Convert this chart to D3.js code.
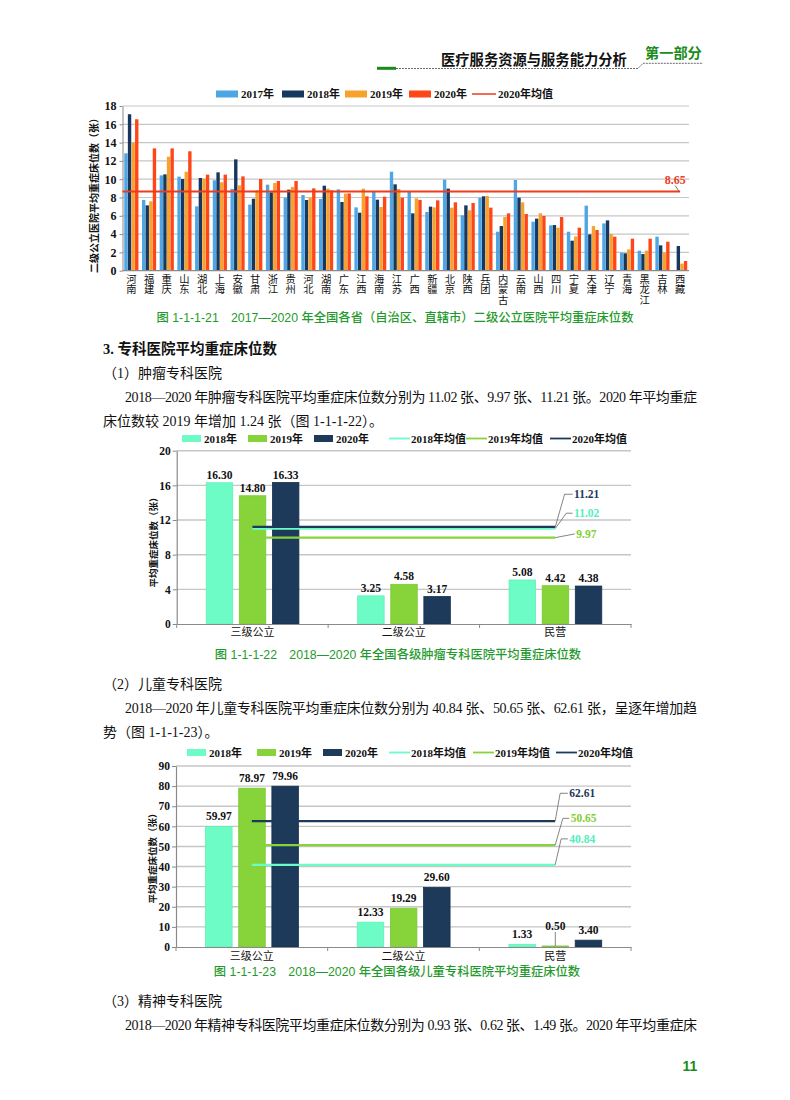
<!DOCTYPE html>
<html><head><meta charset="utf-8">
<script src="https://cdn.jsdelivr.net/npm/d3@7"></script>
<style>body{margin:0;background:#fff}svg{display:block}.vt{writing-mode:vertical-rl;text-orientation:upright}</style>
</head><body>
<svg id="page" width="790" height="1100"></svg>
<script>
// ---------------- DATA ----------------
const provinces = ["河南","福建","重庆","山东","湖北","上海","安徽","甘肃","浙江","贵州","河北","湖南","广东","江西","海南","江苏","广西","新疆","北京","陕西","兵团","内蒙古","云南","山西","四川","宁夏","天津","辽宁","青海","黑龙江","吉林","西藏"];
const years1 = ["2017年","2018年","2019年","2020年"];
const v2017 = [12.83,7.73,10.42,10.28,7.03,9.88,8.93,7.22,9.40,7.98,8.27,7.84,8.89,6.92,8.60,10.82,8.60,6.41,9.95,6.05,7.98,4.26,9.91,5.36,4.96,4.26,7.11,5.17,1.97,2.19,3.72,0];
const v2018 = [17.10,7.14,10.53,10.02,10.13,10.75,12.17,7.87,8.56,8.86,7.73,9.29,7.51,6.34,7.76,9.44,6.27,7.00,8.97,7.14,8.13,4.88,7.98,5.69,4.99,3.28,3.97,5.50,1.90,1.82,2.77,2.70];
const v2019 = [14.00,7.58,12.46,10.82,10.06,9.66,9.33,8.78,9.58,9.15,7.98,8.97,8.42,8.97,6.96,8.93,7.91,6.92,6.89,6.60,8.16,5.87,7.47,6.27,4.70,3.75,4.88,4.00,2.33,2.19,1.97,0.77];
const v2020 = [16.55,13.37,13.37,13.05,10.50,10.50,10.31,10.02,9.80,9.80,9.00,8.78,8.45,8.13,8.09,7.98,7.73,7.69,7.47,7.40,6.89,6.27,6.20,5.98,5.87,4.70,4.45,3.72,3.50,3.50,3.17,1.06];
const mean2020Label = "2020年均值";
const mean2020 = 8.65;
const ticks1 = [0,2,4,6,8,10,12,14,16,18];

const levels = ["三级公立","二级公立","民营"];
const years2 = ["2018年","2019年","2020年"];
const meanNames = ["2018年均值","2019年均值","2020年均值"];
const tumor2018 = [16.30,3.25,5.08];
const tumor2019 = [14.80,4.58,4.42];
const tumor2020 = [16.33,3.17,4.38];
const tumorMeans = [11.02,9.97,11.21];
const tumorTicks = [0,4,8,12,16,20];
const child2018 = [59.97,12.33,1.33];
const child2019 = [78.97,19.29,0.50];
const child2020 = [79.96,29.60,3.40];
const childMeans = [40.84,50.65,62.61];
const childTicks = [0,10,20,30,40,50,60,70,80,90];

// ---------------- STYLE ----------------
const SERIF = '"Liberation Serif","Noto Sans CJK SC",serif';
const SANS = '"Liberation Sans","Noto Sans CJK SC",sans-serif';
const CJK = '"Noto Sans CJK SC",sans-serif';
const GREEN = "#1f9a2c";
const colors1 = ["#4ea6e4","#17375e","#f7a12f","#ff4619"];
const meanColor1 = "#ee3b1c";
const colors2 = ["#6dfcc6","#86d43a","#1e3a5a"];
const GRID = "#c6c6c6";
const AXIS = "#8a8a8a";

const svg = d3.select("#page");

// ---------------- HEADER ----------------
const hdr = svg.append("g");
hdr.append("line").attr("x1",377).attr("x2",396).attr("y1",68.3).attr("y2",68.3).attr("stroke","#1a8a1a").attr("stroke-width",3);
hdr.append("path").attr("d","M396,68.5 L638,68.5 L643,63.3 L703,63.3").attr("fill","none").attr("stroke","#444").attr("stroke-width",0.8).attr("stroke-dasharray","2,1");
hdr.append("text").attr("x",441).attr("y",58.3).attr("dominant-baseline","central").attr("font-family",CJK).attr("font-weight","bold").attr("font-size",14.3).attr("fill","#111").text("医疗服务资源与服务能力分析");
hdr.append("text").attr("x",645).attr("y",51.7).attr("dominant-baseline","central").attr("font-family",CJK).attr("font-weight","bold").attr("font-size",14.2).attr("fill","#1a8c1a").text("第一部分");

// ---------------- CHART 1 ----------------
(function(){
  const L = 122.5, R = 689, T = 106, B = 270.7;
  const g = svg.append("g");
  const x = d3.scaleBand().domain(provinces).range([L,R]).paddingInner(0.2).paddingOuter(0.1);
  const xs = d3.scaleBand().domain(years1).range([0,x.bandwidth()]).paddingInner(0.06);
  const y = d3.scaleLinear().domain([0,18]).range([B,T]);
  g.append("g").selectAll("line").data(ticks1.filter(d=>d>0)).join("line")
    .attr("x1",L).attr("x2",R).attr("y1",d=>y(d)).attr("y2",d=>y(d))
    .attr("stroke",GRID).attr("stroke-width",1.2);
  const series = [v2017,v2018,v2019,v2020];
  series.forEach((arr,si)=>{
    g.append("g").selectAll("rect").data(arr).join("rect")
      .attr("x",(d,i)=>x(provinces[i])+xs(years1[si]))
      .attr("width",xs.bandwidth())
      .attr("y",d=>y(d)).attr("height",d=>B-y(d))
      .attr("fill",colors1[si]);
  });
  const ya = g.append("g").attr("transform",`translate(${L},0)`)
    .call(d3.axisLeft(y).tickValues(ticks1).tickSize(3).tickPadding(3).tickSizeOuter(0));
  ya.select(".domain").attr("stroke",AXIS);
  ya.selectAll(".tick line").attr("stroke",AXIS);
  ya.selectAll("text").attr("font-family",SERIF).attr("font-weight","bold").attr("font-size",12).attr("fill","#111");
  g.append("line").attr("x1",L).attr("x2",R).attr("y1",B).attr("y2",B).attr("stroke",AXIS).attr("stroke-width",1.2);
  // vertical x labels (one text per province, vertical writing mode)
  g.append("g").selectAll("text").data(provinces).join("text")
    .attr("class","vt")
    .attr("x",d=>x(d)+x.bandwidth()/2).attr("y",274)
    .attr("font-family",CJK).attr("font-size",10.3).attr("fill","#111")
    .text(d=>d);
  const xEnd = x("西藏")+x.bandwidth()/2;
  g.append("line").attr("x1",L).attr("x2",xEnd).attr("y1",y(mean2020)).attr("y2",y(mean2020))
    .attr("stroke",meanColor1).attr("stroke-width",2);
  g.append("line").attr("x1",xEnd-1).attr("y1",y(mean2020)).attr("x2",xEnd-5).attr("y2",y(mean2020)-6)
    .attr("stroke","#555").attr("stroke-width",0.8);
  g.append("text").attr("x",xEnd-5).attr("y",y(mean2020)-12).attr("text-anchor","middle").attr("dominant-baseline","central")
    .attr("font-family",SERIF).attr("font-weight","bold").attr("font-size",12).attr("fill",meanColor1).text(mean2020.toFixed(2));
  g.append("text").attr("transform","translate(93,193) rotate(-90)").attr("text-anchor","middle").attr("dominant-baseline","central")
    .attr("font-family",CJK).attr("font-weight","bold").attr("font-size",10).attr("fill","#111").text("二级公立医院平均重症床位数（张）");
  const ly = 94;
  const legX = [216,282,345,409];
  years1.forEach((yr,i)=>{
    g.append("rect").attr("x",legX[i]).attr("y",ly-3.5).attr("width",22).attr("height",7).attr("fill",colors1[i]);
    g.append("text").attr("x",legX[i]+25).attr("y",ly).attr("dominant-baseline","central")
      .attr("font-family",SERIF).attr("font-weight","bold").attr("font-size",11).attr("fill","#111").text(yr);
  });
  g.append("line").attr("x1",472).attr("x2",496).attr("y1",ly).attr("y2",ly).attr("stroke",meanColor1).attr("stroke-width",1.5);
  g.append("text").attr("x",498).attr("y",ly).attr("dominant-baseline","central")
    .attr("font-family",SERIF).attr("font-weight","bold").attr("font-size",11).attr("fill","#111").text(mean2020Label);
})();

// ---------------- CHARTS 2 & 3 ----------------
function levelChart(cfg){
  const {L,R,T,B,max,ticks,series,means,legendY,legX,meanLegX,labelOff,meanLayout,yTitleY,catPad} = cfg;
  const g = svg.append("g");
  const x = d3.scaleBand().domain(levels).range([L,R]);
  const step = x.step();
  const xs = d3.scaleBand().domain(years2).range([step*0.195, step*0.807]).paddingInner(0.2);
  const y = d3.scaleLinear().domain([0,max]).range([B,T]);
  g.append("g").selectAll("line").data(ticks.filter(d=>d>0)).join("line")
    .attr("x1",L).attr("x2",R).attr("y1",d=>y(d)).attr("y2",d=>y(d))
    .attr("stroke",GRID).attr("stroke-width",1.4);
  series.forEach((arr,si)=>{
    g.append("g").selectAll("rect").data(arr).join("rect")
      .attr("x",(d,i)=>x(levels[i])+xs(years2[si]))
      .attr("width",xs.bandwidth())
      .attr("y",d=>y(d)).attr("height",d=>B-y(d))
      .attr("fill",colors2[si])
      .attr("stroke",si===2?"#15304f":(si===1?"#7bc832":"#5ff0b8")).attr("stroke-width",0.8);
  });
  series.forEach((arr,si)=>{
    arr.forEach((v,i)=>{
      const cx = x(levels[i])+xs(years2[si])+xs.bandwidth()/2;
      let ty = y(v)-labelOff;
      if (v < 1) {
        ty = y(v)-20;
        g.append("line").attr("x1",cx).attr("x2",cx).attr("y1",ty+6).attr("y2",y(v)).attr("stroke","#666").attr("stroke-width",0.8);
      }
      g.append("text").attr("x",cx).attr("y",ty).attr("text-anchor","middle").attr("dominant-baseline","central")
        .attr("font-family",SERIF).attr("font-weight","bold").attr("font-size",11.5).attr("fill","#111").text(v.toFixed(2));
    });
  });
  const ya = g.append("g").attr("transform",`translate(${L},0)`)
    .call(d3.axisLeft(y).tickValues(ticks).tickSize(4).tickPadding(2).tickSizeOuter(0));
  ya.select(".domain").attr("stroke",AXIS).attr("stroke-width",1.2);
  ya.selectAll(".tick line").attr("stroke",AXIS);
  ya.selectAll("text").attr("font-family",SERIF).attr("font-weight","bold").attr("font-size",11.5).attr("fill","#111");
  const xa = g.append("g").attr("transform",`translate(0,${B})`)
    .call(d3.axisBottom(x).tickSize(0).tickPadding(catPad).tickSizeOuter(0));
  xa.select(".domain").attr("stroke",AXIS).attr("stroke-width",1.2);
  xa.selectAll("text").attr("font-family",CJK).attr("font-size",11).attr("fill","#111");
  g.append("g").selectAll("line").data(d3.range(levels.length+1)).join("line")
    .attr("x1",d=>L+d*step).attr("x2",d=>L+d*step).attr("y1",B).attr("y2",B+4).attr("stroke",AXIS);
  const xStart = x(levels[0])+step/2, xEnd = x(levels[2])+step/2;
  [0,1,2].forEach(si=>{
    const x0 = si===1 ? xStart+13.5 : xStart;
    g.append("line").attr("x1",x0).attr("x2",xEnd).attr("y1",y(means[si])).attr("y2",y(means[si]))
      .attr("stroke",colors2[si]).attr("stroke-width",2.4);
  });
  [0,1,2].forEach(si=>{
    const m = meanLayout[si];
    const ym = y(means[si]);
    const path = m.straight
      ? `M${xEnd},${ym} L${xEnd+m.dx2},${ym+m.dy}`
      : `M${xEnd},${ym} L${xEnd+m.dx1},${ym+m.dy} L${xEnd+m.dx2},${ym+m.dy}`;
    g.append("path").attr("d",path).attr("fill","none").attr("stroke","#666").attr("stroke-width",0.8);
    g.append("text").attr("x",xEnd+m.dx2+1.5).attr("y",ym+m.dy).attr("dominant-baseline","central")
      .attr("font-family",SERIF).attr("font-weight","bold").attr("font-size",11.5)
      .attr("fill",si===0?"#4ff0bd":(si===1?"#7fd033":"#1e3a5a")).text(means[si].toFixed(2));
  });
  g.append("text").attr("transform",`translate(${L-24},${yTitleY}) rotate(-90)`).attr("text-anchor","middle").attr("dominant-baseline","central")
    .attr("font-family",CJK).attr("font-weight","bold").attr("font-size",9.5).attr("fill","#111").text("平均重症床位数（张）");
  years2.forEach((yr,i)=>{
    g.append("rect").attr("x",legX[i]).attr("y",legendY-3.5).attr("width",19).attr("height",7).attr("fill",colors2[i]);
    g.append("text").attr("x",legX[i]+22).attr("y",legendY).attr("dominant-baseline","central")
      .attr("font-family",SERIF).attr("font-weight","bold").attr("font-size",11).attr("fill","#111").text(yr);
  });
  meanNames.forEach((nm,i)=>{
    g.append("line").attr("x1",meanLegX[i]).attr("x2",meanLegX[i]+21).attr("y1",legendY).attr("y2",legendY)
      .attr("stroke",colors2[i]).attr("stroke-width",1.8);
    g.append("text").attr("x",meanLegX[i]+22).attr("y",legendY).attr("dominant-baseline","central")
      .attr("font-family",SERIF).attr("font-weight","bold").attr("font-size",11).attr("fill","#111").text(nm);
  });
}

levelChart({L:176.7,R:631,T:450.7,B:624,max:20,ticks:tumorTicks,
  series:[tumor2018,tumor2019,tumor2020],means:tumorMeans,legendY:438.5,
  legX:[182,248,314],meanLegX:[389,466,550],labelOff:8,yTitleY:540,catPad:4,
  meanLayout:[{dx1:11,dx2:17.3,dy:-15.3},{straight:true,dx2:19.5,dy:-3.7},{dx1:9.3,dx2:17.3,dy:-32.6}]});

levelChart({L:176,R:631,T:766,B:947,max:90,ticks:childTicks,
  series:[child2018,child2019,child2020],means:childMeans,legendY:752.5,
  legX:[187,257,323],meanLegX:[389,473,556],labelOff:10.5,yTitleY:856,catPad:5,
  meanLayout:[{dx1:6,dx2:12.7,dy:-26},{dx1:7.7,dx2:14,dy:-26.8},{dx1:5,dx2:12.7,dy:-27.8}]});

// ---------------- TEXT ----------------
function txt(x,y,s,opts={}){
  const t = svg.append("text").attr("x",x).attr("y",y).attr("dominant-baseline","central")
    .attr("font-family",opts.family||SERIF).attr("font-size",opts.size||14)
    .attr("font-weight",opts.weight||"normal").attr("fill",opts.fill||"#111")
    .attr("text-anchor",opts.anchor||"start").text(s);
  if (opts.len) t.attr("textLength",opts.len).attr("lengthAdjust","spacing");
  return t;
}
const capOpts = {family:SANS,size:12.3,fill:GREEN,anchor:"middle",weight:"500"};
txt(395,318,"图 1-1-1-21　2017—2020 年全国各省（自治区、直辖市）二级公立医院平均重症床位数",capOpts);
txt(103,349,"3. 专科医院平均重症床位数",{size:14.5,weight:"bold"});
txt(103,373,"（1）肿瘤专科医院",{size:14});
txt(125,397,"2018—2020 年肿瘤专科医院平均重症床位数分别为 11.02 张、9.97 张、11.21 张。2020 年平均重症",{size:14,len:572});
txt(103,421,"床位数较 2019 年增加 1.24 张（图 1-1-1-22）。",{size:14});
txt(398,655,"图 1-1-1-22　2018—2020 年全国各级肿瘤专科医院平均重症床位数",capOpts);
txt(103,684,"（2）儿童专科医院",{size:14});
txt(125,708,"2018—2020 年儿童专科医院平均重症床位数分别为 40.84 张、50.65 张、62.61 张，呈逐年增加趋",{size:14,len:572});
txt(103,732,"势（图 1-1-1-23）。",{size:14});
txt(397,972,"图 1-1-1-23　2018—2020 年全国各级儿童专科医院平均重症床位数",capOpts);
txt(103,1001,"（3）精神专科医院",{size:14});
txt(125,1025,"2018—2020 年精神专科医院平均重症床位数分别为 0.93 张、0.62 张、1.49 张。2020 年平均重症床",{size:14,len:572});
txt(690,1066,"11",{family:SANS,size:14,weight:"bold",fill:"#1a8c1a",anchor:"middle"});
</script>
</body></html>
